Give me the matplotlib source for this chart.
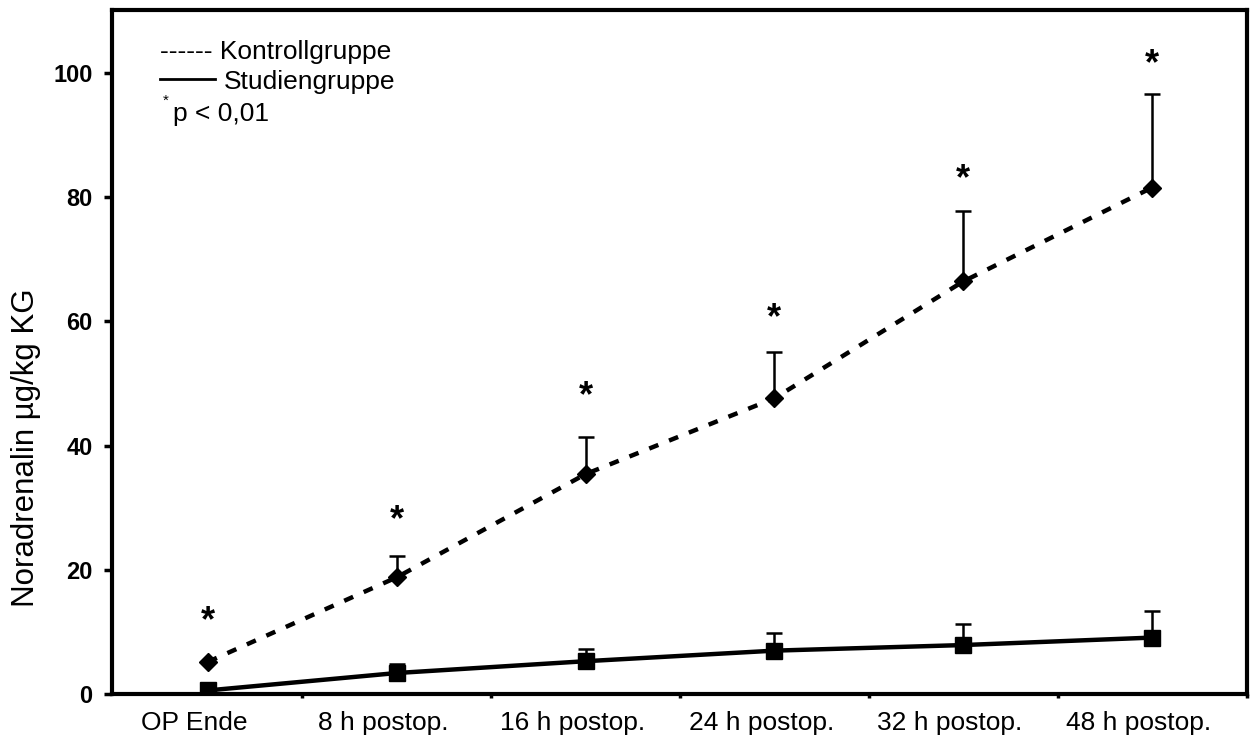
import matplotlib
matplotlib.use("Agg")
import matplotlib.pyplot as plt
import matplotlib.transforms as mtransforms
import numpy as np
from matplotlib.lines import Line2D

categories = ["OP Ende", "8 h postop.", "16 h postop.", "24 h postop.", "32 h postop.", "48 h postop."]
kontroll = [5.2, 18.8, 35.4, 47.6, 66.4, 81.5]
kontroll_err = [0.0, 3.4, 5.9, 7.5, 11.4, 15.0]
studien = [0.6, 3.4, 5.3, 7.0, 7.9, 9.1]
studien_err = [0.0, 1.4, 1.9, 2.8, 3.4, 4.3]
star_y = [12.7, 28.8, 48.9, 61.3, 83.8, 102.2]

plt.rcParams['font.family'] = ['Liberation Sans', 'DejaVu Sans']

fig = plt.figure(figsize=(12.5, 7.44), dpi=100)
ax = fig.add_axes([0.0896, 0.067, 0.9076, 0.919])

x = np.arange(len(categories))

# error bars (upper only)
ax.errorbar(x, kontroll, yerr=[np.zeros(len(x)), kontroll_err], fmt='none',
            ecolor='black', elinewidth=1.8, capsize=6, capthick=1.8, zorder=2)
ax.errorbar(x, studien, yerr=[np.zeros(len(x)), studien_err], fmt='none',
            ecolor='black', elinewidth=1.8, capsize=6, capthick=1.8, zorder=2)

ax.plot(x, kontroll, color='black', lw=3.2, ls=(0, (2.2, 2.6)), marker='D',
        markersize=9.5, markerfacecolor='black', markeredgecolor='black', zorder=3)
ax.plot(x, studien, color='black', lw=3.2, ls='-', marker='s',
        markersize=11, markerfacecolor='black', zorder=3)

star_tr = mtransforms.offset_copy(ax.transData, fig=fig, x=0, y=-6, units='dots')
for xi, yi in zip(x, star_y):
    ax.text(xi, yi, "*", ha='center', va='center', fontsize=26, fontweight='bold',
            transform=star_tr)

ax.set_xlim(-0.508, 5.49)
ax.set_ylim(0, 110)

ax.set_yticks([0, 20, 40, 60, 80, 100])
ax.set_yticklabels(["0", "20", "40", "60", "80", "100"], fontsize=17, fontweight='bold')
ax.set_xticks(x + 0.5, minor=False)
ax.set_xticklabels([])
ax.set_xticks(x - 0.07, minor=True)
ax.set_xticklabels(categories, minor=True, fontsize=19)
ax.tick_params(axis='x', which='minor', length=0, pad=12)
ax.tick_params(axis='x', which='major', length=3, width=2.5, direction='out')
ax.tick_params(axis='y', length=6, width=2.5, direction='out', pad=8)

for s in ax.spines.values():
    s.set_linewidth(3)

ax.set_ylabel("Noradrenalin µg/kg KG", fontsize=22.5)
ax.yaxis.set_label_coords(-0.063, 0.36)

# legend as text
ax.text(0.042, 0.939, "------ Kontrollgruppe", transform=ax.transAxes, fontsize=19,
        ha='left', va='center')
ax.add_line(Line2D([0.042, 0.091], [0.899, 0.899], transform=ax.transAxes,
                   color='black', lw=2))
ax.text(0.099, 0.896, "Studiengruppe", transform=ax.transAxes, fontsize=19,
        ha='left', va='center')
ax.text(0.045, 0.868, "*", transform=ax.transAxes, fontsize=11, ha='left', va='center')
ax.text(0.054, 0.849, "p < 0,01", transform=ax.transAxes, fontsize=19, ha='left', va='center')

fig.savefig("out.png", dpi=100)
